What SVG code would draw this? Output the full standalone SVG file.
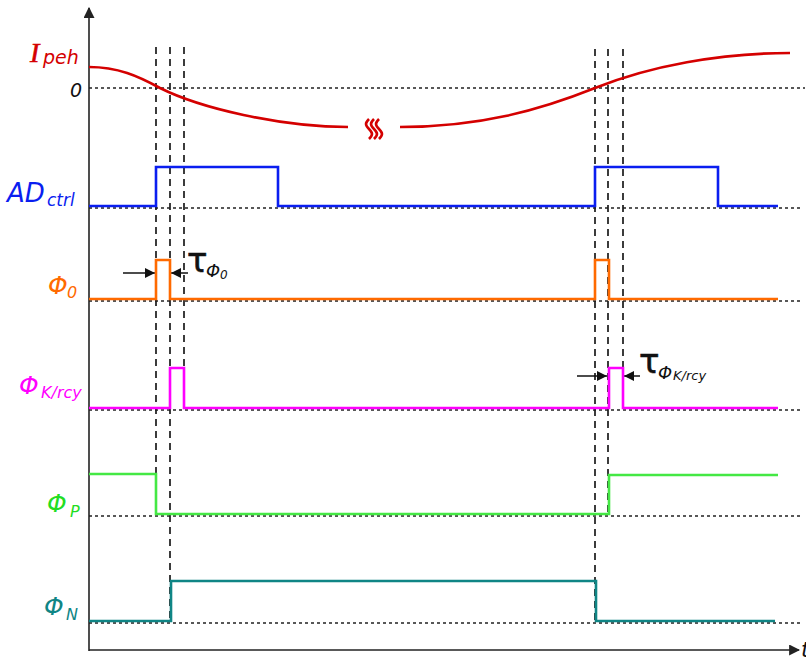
<svg xmlns="http://www.w3.org/2000/svg" width="806" height="657" viewBox="0 0 806 657">
<style>
.axis{stroke:#222;stroke-width:1.6;fill:none}
.dash{stroke:#1a1a1a;stroke-width:1.7;stroke-dasharray:7,5;fill:none}
.dot{stroke:#222;stroke-width:1.5;stroke-dasharray:3,3;fill:none}
.sig{fill:none;stroke-width:2.6;stroke-linejoin:miter}
.lbl{font-family:"DejaVu Sans","Verdana",sans-serif;font-style:italic}
.tau{font-family:"DejaVu Sans","Verdana",sans-serif;font-style:normal;stroke:#111;stroke-width:0.6}
.arr{stroke:#111;stroke-width:1.5;fill:none}
</style>
<defs>
<marker id="ah" viewBox="0 0 10 10" refX="10" refY="5" markerWidth="10" markerHeight="10" markerUnits="userSpaceOnUse" orient="auto">
<path d="M0,0 L10,5 L0,10 z" fill="#111"/>
</marker>
<marker id="ahA" viewBox="0 0 10 10" refX="9" refY="5" markerWidth="11" markerHeight="11" markerUnits="userSpaceOnUse" orient="auto">
<path d="M0,0 L10,5 L0,10 z" fill="#222"/>
</marker>
</defs>

<g id="axes">
<line class="axis" x1="89" y1="651" x2="89" y2="8" marker-end="url(#ahA)"/>
<line class="axis" x1="89" y1="650" x2="799" y2="650" marker-end="url(#ahA)"/>
<text class="lbl" x="801" y="657" font-size="22" fill="#111">t</text>
</g>

<g id="connectors">
<line class="dot" x1="89" y1="88" x2="805" y2="88"/>
<line class="dot" x1="89" y1="208" x2="800" y2="208"/>
<line class="dot" x1="89" y1="301" x2="800" y2="301"/>
<line class="dot" x1="89" y1="410" x2="800" y2="410"/>
<line class="dot" x1="89" y1="516" x2="800" y2="516"/>
<line class="dot" x1="89" y1="623" x2="800" y2="623"/>
<line class="dash" x1="156" y1="47" x2="156" y2="515"/>
<line class="dash" x1="170" y1="47" x2="170" y2="622"/>
<line class="dash" x1="184" y1="47" x2="184" y2="408"/>
<line class="dash" x1="595" y1="49" x2="595" y2="622"/>
<line class="dash" x1="608" y1="49" x2="608" y2="515"/>
<line class="dash" x1="623" y1="49" x2="623" y2="408"/>
<line class="arr" x1="123" y1="273" x2="155" y2="273" marker-end="url(#ah)"/>
<line class="arr" x1="188" y1="273" x2="171" y2="273" marker-end="url(#ah)"/>
<line class="arr" x1="577" y1="376" x2="607" y2="376" marker-end="url(#ah)"/>
<line class="arr" x1="640" y1="376" x2="624" y2="376" marker-end="url(#ah)"/>
</g>

<g id="Ipeh">
<path class="sig" stroke="#d40000" d="M89,67 C118,67 138,76 160,88 C200,108 280,127 348,127"/>
<path class="sig" stroke="#d40000" d="M400,127 C480,127 540,110 595,88 C650,66 720,53 790,53"/>
<path class="sig" stroke="#d40000" stroke-width="2.2" d="M369,119 c-4,4 -4,6 0,10 c4,4 4,6 0,10 M374,119 c-4,4 -4,6 0,10 c4,4 4,6 0,10 M379,119 c-4,4 -4,6 0,10 c4,4 4,6 0,10"/>
<text x="30" y="62" font-size="28" fill="#d40000" stroke="#d40000" stroke-width="0.6" font-style="italic" font-family="'Liberation Serif',serif">I</text>
<text class="lbl" x="43" y="64" font-size="19" fill="#d40000">peh</text>
<text class="lbl" x="70" y="97" font-size="19" fill="#111">0</text>
</g>

<g id="ADctrl">
<path class="sig" stroke="#0a1ef0" d="M89,206 H156 V167 H278 V206 H595 V167 H718 V206 H778"/>
<text class="lbl" x="7" y="202" font-size="26" fill="#0a1ef0">AD</text>
<text class="lbl" x="47" y="206" font-size="17" fill="#0a1ef0">ctrl</text>
</g>

<g id="Phi0">
<path class="sig" stroke="#ff6a00" d="M89,299 H156 V260 H170 V299 H595 V260 H609 V299 H778"/>
<text class="lbl" x="48" y="294" font-size="25" fill="#ff6a00">Φ</text>
<text class="lbl" x="67" y="298" font-size="16" fill="#ff6a00">0</text>
<text class="tau" x="187" y="272" font-size="34" fill="#111">τ</text>
<text class="lbl" x="206" y="277" font-size="18" fill="#111">Φ</text>
<text class="lbl" x="220" y="279" font-size="12" fill="#111">0</text>
</g>

<g id="PhiK">
<path class="sig" stroke="#ff00ff" d="M89,408 H170 V368 H184 V408 H609 V368 H623 V408 H778"/>
<text class="lbl" x="19" y="394" font-size="25" fill="#ff00ff">Φ</text>
<text class="lbl" x="41" y="398" font-size="16" fill="#ff00ff">K/rcy</text>
<text class="tau" x="639" y="373" font-size="34" fill="#111">τ</text>
<text class="lbl" x="658" y="379" font-size="18" fill="#111">Φ</text>
<text class="lbl" x="673" y="380" font-size="13" fill="#111">K/rcy</text>
</g>

<g id="PhiP">
<path class="sig" stroke="#44e844" d="M89,474 H156 V514 H609 V475 H778"/>
<text class="lbl" x="47" y="512" font-size="25" fill="#22dd22">Φ</text>
<text class="lbl" x="70" y="517" font-size="16" fill="#22dd22">P</text>
</g>

<g id="PhiN">
<path class="sig" stroke="#0f8585" d="M89,621 H171 V581 H596 V621 H775"/>
<text class="lbl" x="44" y="615" font-size="25" fill="#0f8585">Φ</text>
<text class="lbl" x="66" y="620" font-size="16" fill="#0f8585">N</text>
</g>
</svg>
